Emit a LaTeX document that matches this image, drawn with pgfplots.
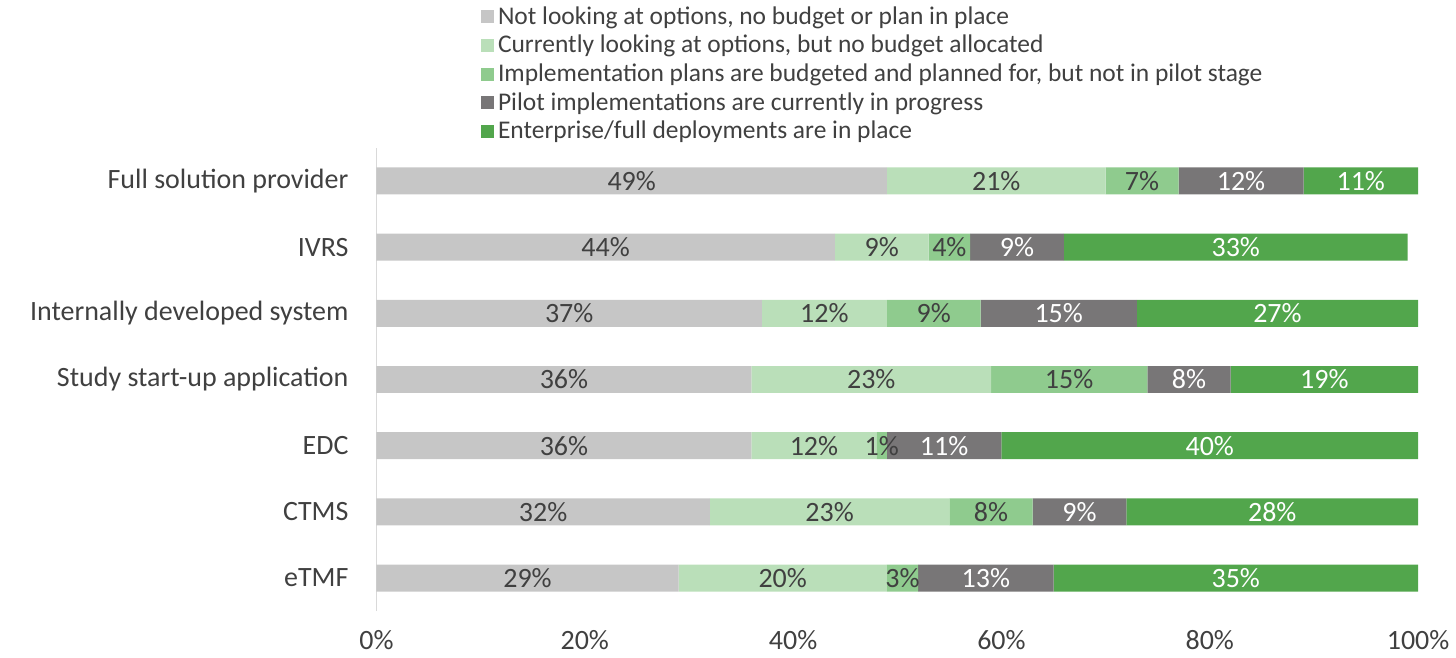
\documentclass[border=0pt]{standalone}
\usepackage{pgfplots}
\pgfplotsset{compat=1.18}
\usepackage{pgfplotstable}
\usepackage{fontspec}
\setmainfont{Carlito}

\definecolor{c1}{HTML}{C6C6C6}
\definecolor{c2}{HTML}{BADFB9}
\definecolor{c3}{HTML}{8FCB8E}
\definecolor{c4}{HTML}{787677}
\definecolor{c5}{HTML}{52A64C}
\definecolor{txt}{HTML}{404040}
\definecolor{axgray}{HTML}{D9D9D9}

% categories bottom (0) to top (6); g = bar lengths, m = printed labels
\pgfplotstableread{
cat g1 g2 g3 g4 g5 m1 m2 m3 m4 m5
0 29 20 3 13 35 29 20 3 13 35
1 32 23 8 9 28 32 23 8 9 28
2 36 12 1 11 40 36 12 1 11 40
3 36 23 15 8 18 36 23 15 8 19
4 37 12 9 15 27 37 12 9 15 27
5 44 9 4 9 33 44 9 4 9 33
6 49 21 7 12 11 49 21 7 12 11
}\datatable

\begin{document}
\begin{tikzpicture}
\begin{axis}[
    xbar stacked,
    bar width=13.5pt,
    scale only axis,
    width=521.5pt,
    height=232pt,
    xmin=0, xmax=100,
    ymin=-0.5, ymax=6.5,
    ytick={0,...,6},
    yticklabels={eTMF,CTMS,EDC,Study start-up application,Internally developed system,IVRS,Full solution provider},
    xtick={0,20,40,60,80,100},
    xticklabel={\pgfmathprintnumber{\tick}\%},
    /pgf/number format/assume math mode=true,
    major tick length=0pt,
    axis y line*=left,
    axis x line*=bottom,
    axis line style={-},
    x axis line style={draw=none},
    y axis line style={draw=axgray},
    tick label style={font=\fontsize{14}{16}\selectfont, text=txt},
    xticklabel style={yshift=-6pt},
    yticklabel style={xshift=-10.5pt},
    point meta=explicit,
    nodes near coords={\pgfmathprintnumber{\pgfplotspointmeta}\%},
    every node near coord/.append style={anchor=center, font=\fontsize{14}{16}\selectfont, text=txt},
    legend style={at={(0.1,1)}, anchor=south west, yshift=0.75pt, draw=none, fill=none,
        inner sep=0pt, font=\fontsize{12.75}{14.25}\selectfont, text=txt,
        row sep=0pt, cells={anchor=west}},
    legend cell align=left,
    legend image code/.code={\fill[#1,draw=none] (0pt,-3.2pt) rectangle (6.5pt,3.3pt);},
]
\addplot[fill=c1, draw=none] table[x=g1, y=cat, meta=m1] {\datatable};
\addplot[fill=c2, draw=none] table[x=g2, y=cat, meta=m2] {\datatable};
\addplot[fill=c3, draw=none] table[x=g3, y=cat, meta=m3] {\datatable};
\addplot[fill=c4, draw=none, every node near coord/.append style={text=white}] table[x=g4, y=cat, meta=m4] {\datatable};
\addplot[fill=c5, draw=none, every node near coord/.append style={text=white}] table[x=g5, y=cat, meta=m5] {\datatable};
\legend{{Not looking at options, no budget or plan in place},
        {Currently looking at options, but no budget allocated},
        {Implementation plans are budgeted and planned for, but not in pilot stage},
        {Pilot implementations are currently in progress},
        {Enterprise/full deployments are in place}}
\end{axis}
\path ([shift={(-188.5pt,-23pt)}]current axis.south west) rectangle ([shift={(18pt,74pt)}]current axis.north east);
\end{tikzpicture}
\end{document}
